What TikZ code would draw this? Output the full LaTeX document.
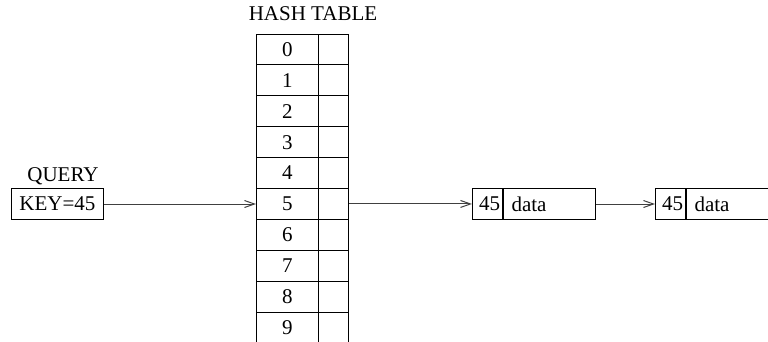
\documentclass[tikz,border=0pt]{standalone}
\usepackage{fontspec}
\setmainfont{Liberation Serif}
\usetikzlibrary{arrows.meta}
\begin{document}
\begin{tikzpicture}[x=1pt,y=-1pt,
  every node/.style={font=\fontsize{21}{24}\selectfont, inner sep=0pt},
  cell/.style={draw, line width=1pt, minimum height=30.9pt, anchor=north west},
  numcell/.style={cell, minimum width=61.7pt},
  ptrcell/.style={cell, minimum width=30.6pt},
  keycell/.style={cell, minimum width=30pt, text width=25pt, align=right},
  datacell/.style={cell, minimum width=92pt, text width=76pt, align=left},
  conn/.style={draw=black!75, line width=1pt, -{Straight Barb[length=10pt,width=7pt]}}]
\useasboundingbox (0,0) rectangle (768,341);
\clip (0,0) rectangle (768,341);
% title
\node (title) at (313,13.7) {HASH TABLE};
% table
\foreach \i in {0,...,9}{
  \node[numcell] (c\i) at (256,{33.5+30.9*\i}) {\i};
  \node[ptrcell] (r\i) at (317.7,{33.5+30.9*\i}) {};
}
% query
\node[anchor=base] (qlabel) at (63,181.5) {QUERY};
\node[cell, minimum width=92pt, minimum height=31pt] (key) at (11,188) {KEY=45};
% list nodes
\node[keycell, minimum height=31pt] (n1) at (472,188) {45};
\node[datacell, minimum height=31pt] (d1) at (n1.north east) {data};
\node[keycell, minimum height=31pt] (n2) at (655,188) {45};
\node[datacell, minimum height=31pt] (d2) at (n2.north east) {data};
% connectors
\draw[conn] (key.east) -- (key.east -| c5.west);
\draw[conn] (r5.east) -- (r5.east -| n1.west);
\draw[conn] (d1.east) -- (d1.east -| n2.west);
\end{tikzpicture}
\end{document}
